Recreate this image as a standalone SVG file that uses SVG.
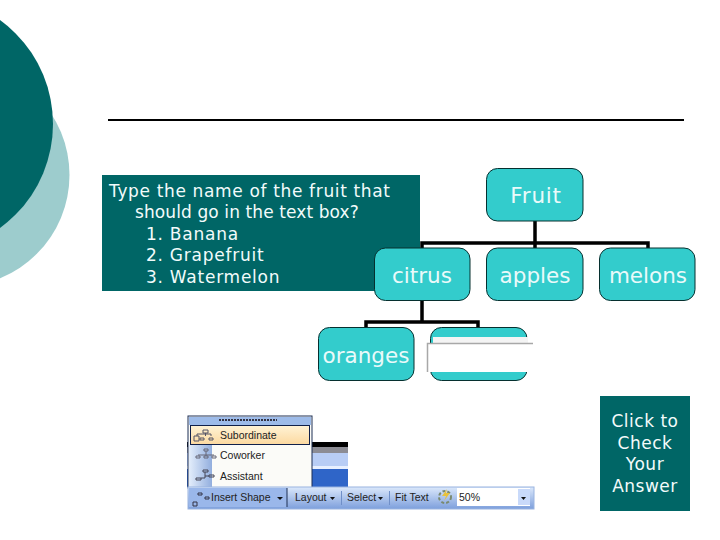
<svg xmlns="http://www.w3.org/2000/svg" width="720" height="540" viewBox="0 0 720 540">
<defs>
<linearGradient id="bar" x1="0" y1="0" x2="0" y2="1"><stop offset="0" stop-color="#dbe8fb"/><stop offset="1" stop-color="#7d9fdc"/></linearGradient>
<linearGradient id="side" x1="0" y1="0" x2="1" y2="0"><stop offset="0" stop-color="#e3edfb"/><stop offset="1" stop-color="#92aede"/></linearGradient>
<linearGradient id="hi" x1="0" y1="0" x2="0" y2="1"><stop offset="0" stop-color="#fff3d6"/><stop offset="1" stop-color="#fcd9a0"/></linearGradient>
</defs>
<style>
.box{fill:#33cccc;stroke:#06302f;stroke-width:1}
.lbl{font-family:"DejaVu Sans",sans-serif;font-size:21.5px;fill:#eafafa;text-anchor:middle}
.q{font-family:"DejaVu Sans",sans-serif;font-size:17px;fill:#f2fbfb;letter-spacing:.75px}
.c{font-family:"DejaVu Sans",sans-serif;font-size:17px;fill:#f2fbfb;letter-spacing:.5px;text-anchor:middle}
.ui{font-family:"Liberation Sans",Arial,sans-serif;font-size:10.5px;fill:#222}
.conn{fill:none;stroke:#000;stroke-width:3.5}
</style>
<rect width="720" height="540" fill="#fff"/>
<g id="decor">
<circle cx="-42" cy="175" r="111.5" fill="#9dcccd"/>
<circle cx="-75.5" cy="124" r="128.5" fill="#006666"/>
<rect x="108" y="119" width="576" height="2" fill="#000"/>
</g>
<g id="question">
<rect x="102" y="175" width="318" height="116" fill="#006666"/>
<text class="q" x="109" y="196.500" style="letter-spacing:.65px">Type the name of the fruit that</text>
<text class="q" x="135" y="218" style="letter-spacing:.1px">should go in the text box?</text>
<text class="q" x="146" y="239.500">1. Banana</text>
<text class="q" x="146" y="261">2. Grapefruit</text>
<text class="q" x="146" y="282.500">3. Watermelon</text>
</g>
<g id="connectors">
<path class="conn" d="M535 221V243M422 248V243H648V248M535 243V248"/>
<path class="conn" d="M422 300V322M366 327V322H478V327"/>
</g>
<g id="fruit"><rect class="box" x="486.500" y="168.500" width="96.500" height="52.500" rx="11"/><text class="lbl" x="536" y="202.500" style="letter-spacing:.8px">Fruit</text></g>
<g id="citrus"><rect class="box" x="374.500" y="248" width="95.500" height="52.500" rx="11"/><text class="lbl" x="422" y="282.500">citrus</text></g>
<g id="apples"><rect class="box" x="486.500" y="248" width="96.500" height="52.500" rx="11"/><text class="lbl" x="535" y="282.500">apples</text></g>
<g id="melons"><rect class="box" x="599.500" y="248" width="95.500" height="52.500" rx="11"/><text class="lbl" x="648" y="282.500">melons</text></g>
<g id="oranges"><rect class="box" x="318.500" y="327.500" width="95.500" height="53" rx="11"/><text class="lbl" x="366" y="362.500">oranges</text></g>
<g id="blank">
<rect class="box" x="430.500" y="327.500" width="96.500" height="53" rx="11"/>
<rect x="433" y="337" width="95" height="6" fill="#f4f4f4"/>
<rect x="427" y="343" width="107" height="29" fill="#fff"/>
<path d="M427.500 372V343.500H533" fill="none" stroke="#a8a8a8" stroke-width="1.500"/>
</g>
<g id="toolbar-image">
<rect x="187" y="442" width="161" height="5" fill="#000"/>
<rect x="187" y="447" width="161" height="6" fill="#8c8c94"/>
<rect x="187" y="453" width="161" height="13" fill="#b8cdf5"/>
<rect x="187" y="466" width="161" height="3" fill="#e8f0ff"/>
<rect x="187" y="469" width="161" height="18" fill="#2f65c8"/>
<rect x="188" y="416" width="124" height="72" fill="#fbfbf8" stroke="#1c2f55" stroke-width="1"/>
<rect x="189" y="417" width="122" height="8" fill="#9dbbe9"/>
<path d="M219 420H277" stroke="#334" stroke-width="2" stroke-dasharray="2 1"/>
<rect x="189" y="445" width="23" height="42" fill="url(#side)"/>
<rect x="190.500" y="425.500" width="119" height="19" fill="url(#hi)" stroke="#10204a" stroke-width="1"/>
<text class="ui" x="220" y="439">Subordinate</text>
<text class="ui" x="220" y="459">Coworker</text>
<text class="ui" x="220" y="480">Assistant</text>
<path d="M194 436h5v5h-5zM203 430h5v3h-5zM200 438h4v2h-4zM209 438h4v2h-4zM205.500 433v3M197 436v-2h14v2" fill="none" stroke="#556" stroke-width="1"/>
<path d="M196 456h4v2h-4zM204 449h4v2h-4zM204 456h4v2h-4zM212 456h4v2h-4zM206 451v5M198 455h16" fill="none" stroke="#667" stroke-width="1"/>
<path d="M196 478h5v2h-5zM203 470h5v2h-5zM209 475h5v2h-5zM205 472v6M205 476h4M201 478h4" fill="none" stroke="#445" stroke-width="1"/>
<rect x="188" y="487" width="346" height="22" fill="url(#bar)" stroke="#9ab4e0" stroke-width="1"/>
<rect x="189" y="488" width="98" height="19" fill="#9ab7ea"/>
<path d="M287 488V507" stroke="#1c2f55" stroke-width="1"/>
<path d="M193 502h4v4h-4zM198 493h4v2h-4zM205 497h4v2h-4z" fill="none" stroke="#334" stroke-width="1"/>
<text class="ui" x="211" y="501">Insert Shape</text>
<path d="M277 497h6l-3 3z" fill="#111"/>
<text class="ui" x="295" y="501">Layout</text>
<path d="M330 497h5l-2.500 3z" fill="#111"/>
<path d="M341.500 491V505M389.500 491V505" stroke="#6f8fc8" stroke-width="1"/>
<text class="ui" x="347" y="501">Select</text>
<path d="M378 497h5l-2.500 3z" fill="#111"/>
<text class="ui" x="395" y="501">Fit Text</text>
<circle cx="445" cy="497" r="6" fill="none" stroke="#7a8a70" stroke-width="2" stroke-dasharray="3 2"/>
<path d="M447 489l-5 7h4l-2 5 6-8h-4z" fill="#e8c23c"/>
<rect x="457" y="488" width="73" height="18" fill="#fff"/>
<text class="ui" x="459" y="501" font-size="11">50%</text>
<rect x="518" y="489" width="12" height="16" fill="#c9dafa"/>
<path d="M521 497h5l-2.500 3z" fill="#111"/>
</g>
<g id="check">
<rect x="600" y="396" width="90" height="115" fill="#006666"/>
<text class="c" x="645" y="427">Click to</text>
<text class="c" x="645" y="448.500">Check</text>
<text class="c" x="645" y="470">Your</text>
<text class="c" x="645" y="491.500">Answer</text>
</g>
</svg>
